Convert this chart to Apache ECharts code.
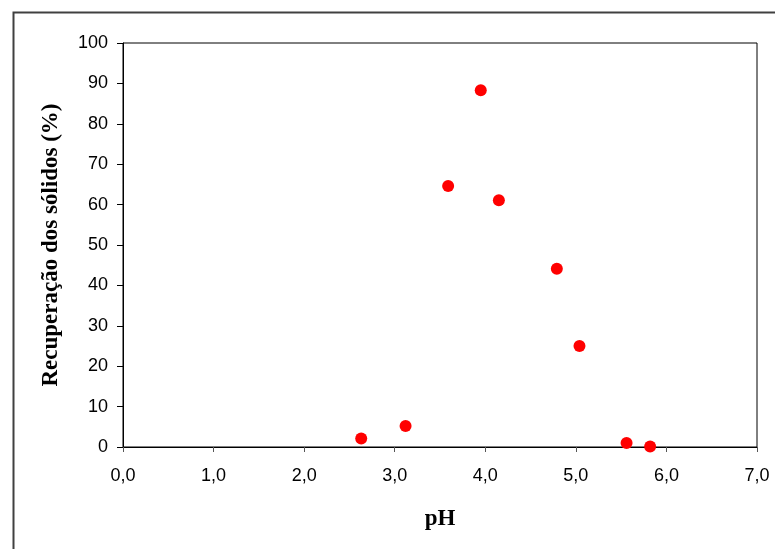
<!DOCTYPE html>
<html><head><meta charset="utf-8">
<script src="https://cdn.jsdelivr.net/npm/echarts@6/dist/echarts.min.js"></script>
<style>html,body{margin:0;padding:0;background:#fff}#c{width:775px;height:549px}</style>
</head><body><div id="c"></div>
<script>
const phValues = [2.63, 3.12, 3.59, 3.95, 4.15, 4.79, 5.04, 5.56, 5.82];
const recoveryValues = [2.1, 5.2, 64.6, 88.3, 61.1, 44.1, 25.0, 1.0, 0.1];
const xTitle = 'pH';
const yTitle = 'Recuperação dos sólidos (%)';

const chart = echarts.init(document.getElementById('c'));
chart.setOption({
  animation: false,
  backgroundColor: '#fff',
  graphic: [{
    type: 'rect', left: 11, top: 10, z: -1,
    shape: { width: 800, height: 600 },
    style: { fill: 'none', stroke: '#404040', lineWidth: 2 }
  }],
  grid: { left: 123, top: 43, width: 634, height: 404, show: true, borderColor: '#000', borderWidth: 1, backgroundColor: 'transparent' },
  xAxis: {
    type: 'value', min: 0, max: 7, interval: 1,
    name: xTitle, nameLocation: 'middle', nameGap: 61,
    nameTextStyle: { fontFamily: 'Liberation Serif', fontWeight: 'bold', fontSize: 23, color: '#000' },
    axisLine: { show: true, lineStyle: { color: '#000', width: 1 } },
    axisTick: { show: true, length: 5, inside: false, lineStyle: { color: '#555' } },
    axisLabel: { fontFamily: 'Liberation Sans', fontSize: 18, color: '#000', margin: 20,
      formatter: v => v.toFixed(1).replace('.', ',') },
    splitLine: { show: false }
  },
  yAxis: {
    type: 'value', min: 0, max: 100, interval: 10,
    name: yTitle, nameLocation: 'middle', nameGap: 60,
    nameTextStyle: { fontFamily: 'Liberation Serif', fontWeight: 'bold', fontSize: 23, color: '#000' },
    axisLine: { show: true, lineStyle: { color: '#000', width: 1 } },
    axisTick: { show: true, length: 6, inside: false, lineStyle: { color: '#000' } },
    axisLabel: { fontFamily: 'Liberation Sans', fontSize: 18, color: '#000', margin: 15 },
    splitLine: { show: false }
  },
  series: [{
    type: 'scatter',
    data: phValues.map((x, i) => [x, recoveryValues[i]]),
    symbol: 'circle', symbolSize: 12,
    itemStyle: { color: '#ff0000', opacity: 1 }
  }]
});
</script></body></html>
